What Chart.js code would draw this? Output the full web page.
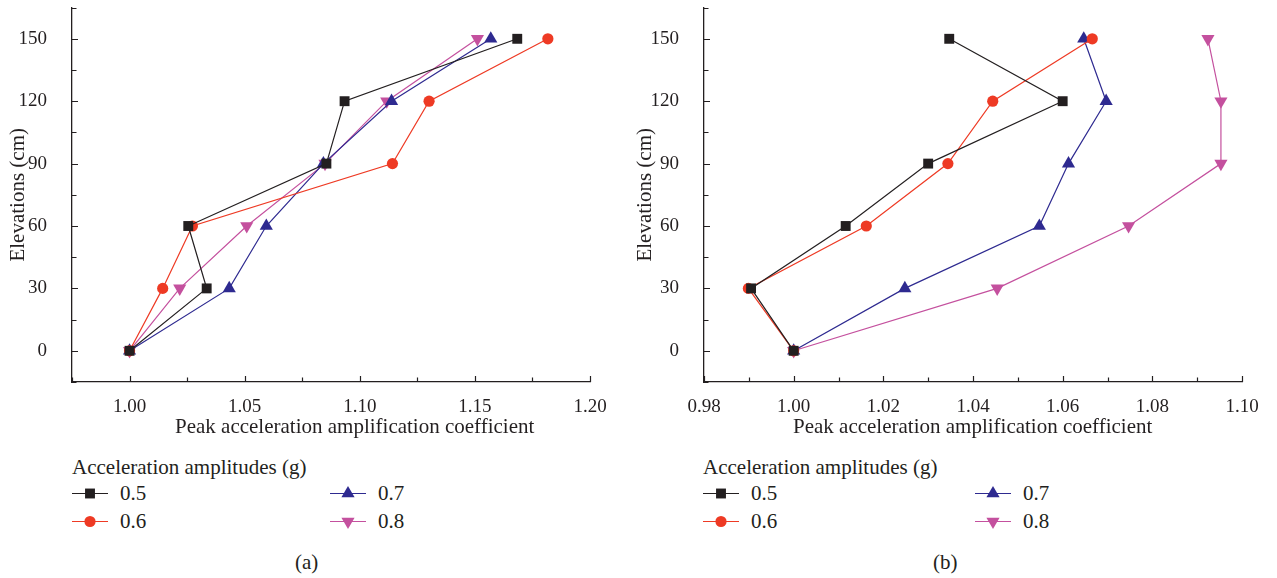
<!DOCTYPE html>
<html>
<head>
<meta charset="utf-8">
<title>Peak acceleration amplification</title>
<script src="https://cdn.jsdelivr.net/npm/chart.js@4.4.1/dist/chart.umd.min.js"></script>
<style>
  body { margin: 0; background: #fff; width: 1277px; height: 578px; position: relative; overflow: hidden;
         font-family: 'Liberation Serif', 'DejaVu Serif', serif; color: #231f20; }
  canvas.plot { position: absolute; top: 0; }
  .txt { position: absolute; font-size: 21px; line-height: 22px; white-space: nowrap; }
  canvas.key { position: absolute; }
</style>
</head>
<body>
<canvas id="chartA" class="plot" width="620" height="420" style="left:0px"></canvas>
<canvas id="chartB" class="plot" width="647" height="420" style="left:630px"></canvas>

<div class="txt" style="left:175px;top:415px">Peak acceleration amplification coefficient</div>
<div class="txt" style="left:793px;top:415px">Peak acceleration amplification coefficient</div>
<div id="legendA"></div>
<div id="legendB"></div>
<div class="txt" style="left:295px;top:551px">(a)</div>
<div class="txt" style="left:933px;top:551px">(b)</div>

<script>
// elevations of the measuring points (cm)
const elevations = [0, 30, 60, 90, 120, 150];
const amplitudes = ['0.5', '0.6', '0.7', '0.8'];

// (a) amplification coefficient per elevation
const coefA05 = [1.000, 1.0335, 1.0255, 1.0855, 1.0934, 1.1684];
const coefA06 = [1.000, 1.0144, 1.0273, 1.1142, 1.1301, 1.1817];
const coefA07 = [1.000, 1.0433, 1.0594, 1.0842, 1.1138, 1.1569];
const coefA08 = [1.000, 1.0218, 1.0509, 1.0849, 1.1117, 1.1511];

// (b) amplification coefficient per elevation
const coefB05 = [1.000, 0.9905, 1.0116, 1.0300, 1.0600, 1.0347];
const coefB06 = [1.000, 0.9899, 1.0162, 1.0344, 1.0444, 1.0666];
const coefB07 = [1.000, 1.0248, 1.0548, 1.0613, 1.0697, 1.0647];
const coefB08 = [1.000, 1.0454, 1.0747, 1.0953, 1.0953, 1.0924];

const colors = ['#231f20', '#ee3a24', '#2e2a90', '#c4509e'];
const markers = [
  { pointStyle: 'rect', radius: 7, rotation: 0 },
  { pointStyle: 'circle', radius: 5.6, rotation: 0 },
  { pointStyle: 'triangle', radius: 7.6, rotation: 0 },
  { pointStyle: 'triangle', radius: 7.6, rotation: 180 }
];

const FONT = "'Liberation Serif', 'DejaVu Serif', serif";
const INK = '#231f20';

// ticks drawn inward from the axis lines, short ones for unlabelled steps
const inwardTicks = {
  id: 'inwardTicks',
  afterDraw(chart) {
    const ctx = chart.ctx;
    const xs = chart.scales.x, ys = chart.scales.y;
    const area = chart.chartArea;
    ctx.save();
    ctx.strokeStyle = INK;
    ctx.lineWidth = 1.2;
    ctx.beginPath();
    xs.ticks.forEach(t => {
      const px = Math.round(xs.getPixelForValue(t.value)) + 0.5;
      const len = t.label ? 6 : 4.5;
      ctx.moveTo(px, area.bottom);
      ctx.lineTo(px, area.bottom - len);
    });
    ys.ticks.forEach(t => {
      const py = Math.round(ys.getPixelForValue(t.value)) + 0.5;
      const len = t.label ? 6 : 4.5;
      ctx.moveTo(area.left, py);
      ctx.lineTo(area.left + len, py);
    });
    ctx.stroke();
    ctx.restore();
  }
};

function makeDatasets(series) {
  return series.map((vals, i) => ({
    label: amplitudes[i],
    data: vals.map((v, k) => ({ x: v, y: elevations[k] })),
    borderColor: colors[i],
    backgroundColor: colors[i],
    borderWidth: 1.2,
    pointStyle: markers[i].pointStyle,
    pointRadius: markers[i].radius,
    pointRotation: markers[i].rotation,
    pointBorderWidth: 0,
    pointBackgroundColor: colors[i],
    tension: 0,
    clip: false
  }));
}

function makeChart(id, series, xMin, xMax, xStep, xMajor, yWidth, yTitlePad, rightPad) {
  return new Chart(document.getElementById(id), {
    type: 'line',
    data: { datasets: makeDatasets(series) },
    options: {
      responsive: false,
      devicePixelRatio: 1,
      animation: false,
      layout: { padding: { top: 3, right: rightPad, left: 0, bottom: 0 } },
      plugins: { legend: { display: false }, tooltip: { enabled: false } },
      scales: {
        x: {
          type: 'linear',
          min: xMin, max: xMax,
          grid: { display: false },
          border: { display: true, color: INK, width: 1.3 },
          afterFit(s) { s.height = 38; },
          ticks: {
            stepSize: xStep,
            autoSkip: false,
            maxRotation: 0,
            padding: 6,
            color: INK,
            font: { family: FONT, size: 19 },
            callback(v) {
              const r = v / xMajor;
              return Math.abs(r - Math.round(r)) < 1e-6 ? v.toFixed(2) : '';
            }
          }
        },
        y: {
          type: 'linear',
          min: -15, max: 165,
          grid: { display: false },
          border: { display: true, color: INK, width: 1.3 },
          afterFit(s) { s.width = yWidth; s.paddingTop = 0; s.paddingBottom = 0; },
          title: {
            display: true,
            text: 'Elevations (cm)',
            color: INK,
            font: { family: FONT, size: 21 },
            padding: { top: yTitlePad, bottom: 0 }
          },
          ticks: {
            stepSize: 15,
            autoSkip: false,
            padding: 17,
            color: INK,
            font: { family: FONT, size: 19 },
            callback(v) { return v >= 0 && v % 30 === 0 ? String(v) : ''; }
          }
        }
      }
    },
    plugins: [inwardTicks]
  });
}

makeChart('chartA', [coefA05, coefA06, coefA07, coefA08], 0.975, 1.20, 0.025, 0.05, 72, 6, 30);
makeChart('chartB', [coefB05, coefB06, coefB07, coefB08], 0.98, 1.10, 0.01, 0.02, 74, 3, 35);

// legend: title row, then 0.5 / 0.7 on the first line and 0.6 / 0.8 on the second
function buildLegend(id, left, col2) {
  const host = document.getElementById(id);
  const title = document.createElement('div');
  title.className = 'txt';
  title.style.left = left + 'px';
  title.style.top = '456px';
  title.textContent = 'Acceleration amplitudes (g)';
  host.appendChild(title);
  const order = [0, 2, 1, 3];
  order.forEach((si, n) => {
    const colX = n % 2 === 0 ? left : col2;
    const rowY = n < 2 ? 493 : 521;
    const key = document.createElement('canvas');
    key.className = 'key';
    key.width = 36; key.height = 18;
    key.style.left = colX + 'px';
    key.style.top = (rowY - 9) + 'px';
    host.appendChild(key);
    const c = key.getContext('2d');
    c.strokeStyle = colors[si];
    c.lineWidth = 1.2;
    c.beginPath();
    c.moveTo(0, 9.5); c.lineTo(36, 9.5);
    c.stroke();
    c.fillStyle = colors[si];
    Chart.helpers.drawPoint(c, { pointStyle: markers[si].pointStyle, radius: markers[si].radius,
      rotation: markers[si].rotation, borderWidth: 0 }, 18, 9.5);
    const lab = document.createElement('div');
    lab.className = 'txt';
    lab.style.left = (colX + 48) + 'px';
    lab.style.top = (rowY - 11) + 'px';
    lab.textContent = amplitudes[si];
    host.appendChild(lab);
  });
}

buildLegend('legendA', 72, 330);
buildLegend('legendB', 703, 975);
</script>
</body>
</html>
